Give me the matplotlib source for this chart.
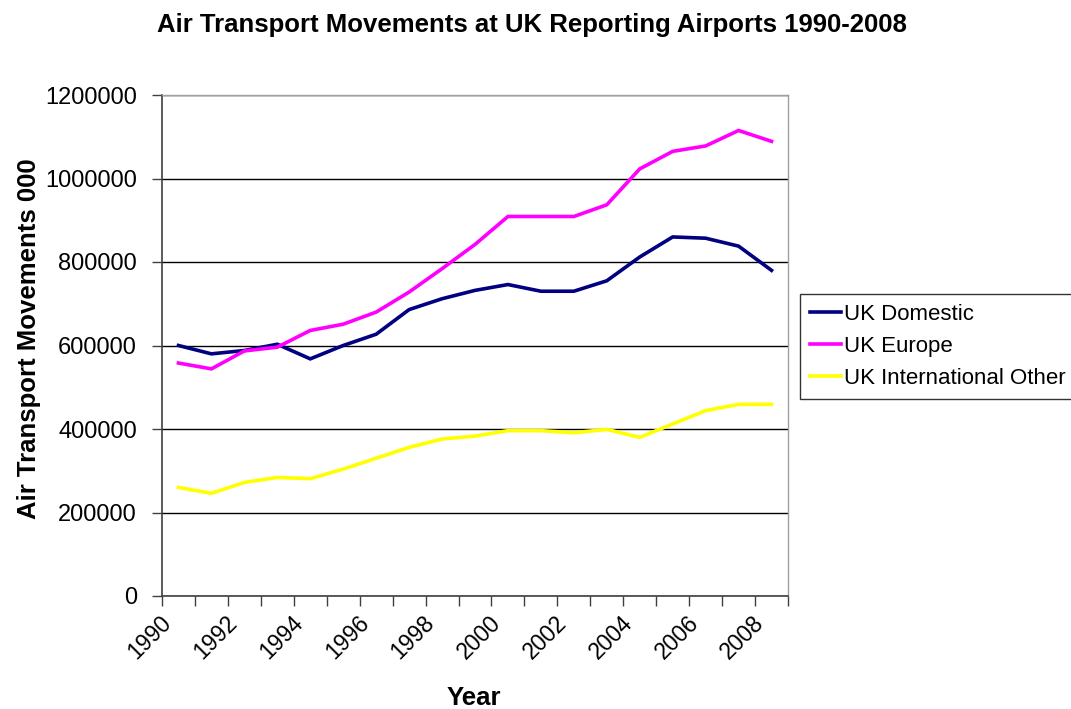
import matplotlib
matplotlib.use("Agg")
import matplotlib.pyplot as plt
from matplotlib.ticker import FixedLocator
from matplotlib.transforms import ScaledTranslation, blended_transform_factory

plt.rcParams['font.family'] = ['Liberation Sans', 'DejaVu Sans']

years = list(range(1990, 2009))
uk_domestic = [600000, 580000, 588000, 603000, 568000, 600000, 627000, 686000, 712000,
               732000, 746000, 730000, 730000, 755000, 812000, 860000, 857000, 838000, 780000]
uk_europe = [558000, 544000, 587000, 596000, 636000, 651000, 680000, 728000, 784000,
             842000, 909000, 909000, 909000, 937000, 1023000, 1065000, 1078000, 1115000, 1089000]
uk_intl_other = [260000, 246000, 272000, 284000, 281000, 304000, 330000, 356000, 376000,
                 383000, 396000, 396000, 391000, 399000, 380000, 412000, 444000, 459000, 459000]
series_names = ["UK Domestic", "UK Europe", "UK International Other"]
series_colors = ["#000080", "#FF00FF", "#FFFF00"]
y_ticks = [0, 200000, 400000, 600000, 800000, 1000000, 1200000]

fig = plt.figure(figsize=(10.71, 7.09), dpi=100)
ax = fig.add_axes([162/1071, 1-596/709, (788-162)/1071, (596-95)/709])

x = list(range(len(years)))
for vals, name, col in zip([uk_domestic, uk_europe, uk_intl_other], series_names, series_colors):
    ax.plot(x, vals, color=col, lw=2.6, label=name, solid_joinstyle='miter')

ax.set_xlim(-0.5, len(years) - 0.5)
ax.set_ylim(0, 1200000)
ax.set_yticks(y_ticks)
ax.set_yticklabels([str(v) for v in y_ticks], fontsize=17)
ax.yaxis.grid(True, color='black', lw=1.0)
ax.set_axisbelow(True)

# category axis: tick marks at category boundaries, labels every other year
ax.set_xticks([])
ax.xaxis.set_minor_locator(FixedLocator([i - 0.5 for i in range(len(years) + 1)]))
ax.tick_params(axis='x', which='minor', length=7, width=1, color='#404040')
ax.tick_params(axis='y', which='major', length=7, width=1, color='#404040', pad=11)
lab_tr = blended_transform_factory(ax.transData, ax.transAxes) + \
    ScaledTranslation(-19/100, -15/100, fig.dpi_scale_trans)
for xi, yr in zip(x[::2], years[::2]):
    ax.text(xi, 0, str(yr), transform=lab_tr, rotation=45, ha='right', va='top',
            rotation_mode='anchor', fontsize=16.5)

for s in ['left', 'bottom']:
    ax.spines[s].set_color('#404040')
    ax.spines[s].set_linewidth(1.2)
for s in ['top', 'right']:
    ax.spines[s].set_color('#A0A0A0')
    ax.spines[s].set_linewidth(1.0)

fig.text(474/1071, 1-705/709, "Year", ha='center', va='baseline',
         fontsize=18.5, fontweight='bold')
fig.text(29/1071, 1-339/709, "Air Transport Movements 000", ha='center', va='center',
         rotation=90, fontsize=18.5, fontweight='bold')
fig.text(532/1071, 1-25/709, "Air Transport Movements at UK Reporting Airports 1990-2008",
         ha='center', va='center', fontsize=18.5, fontweight='bold')

leg = ax.legend(loc='upper left', bbox_to_anchor=(800/1071, 1-294/709),
                bbox_transform=fig.transFigure, fontsize=16, frameon=True, fancybox=False,
                handlelength=1.4, handletextpad=0.12, borderpad=0.45, labelspacing=0.5,
                borderaxespad=0)
leg.get_frame().set_edgecolor('black')
leg.get_frame().set_linewidth(1.0)

fig.savefig("out.png", dpi=100)
